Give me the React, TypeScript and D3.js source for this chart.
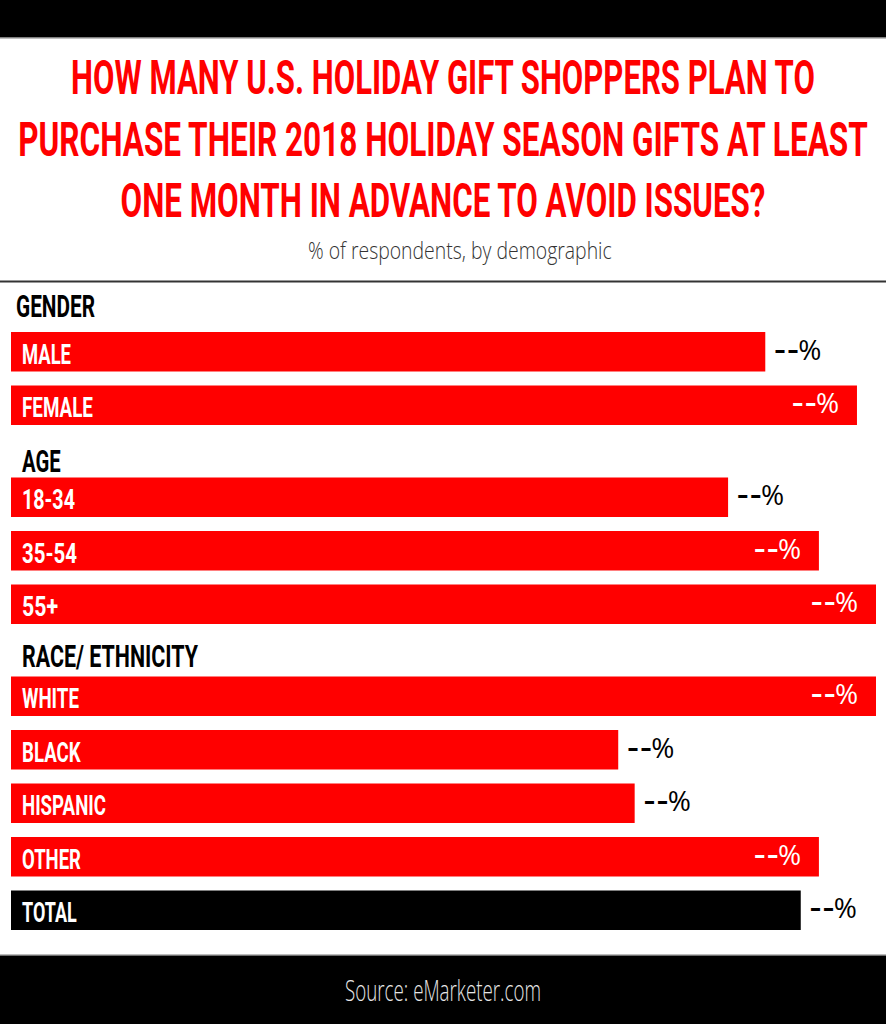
import React, { useLayoutEffect, useRef, useState } from "react";
import * as d3 from "d3";

// ---------- data ----------
const categories = ["MALE", "FEMALE", "18-34", "35-54", "55+", "WHITE", "BLACK", "HISPANIC", "OTHER", "TOTAL"];
const groups = ["GENDER", "GENDER", "AGE", "AGE", "AGE", "RACE/ ETHNICITY", "RACE/ ETHNICITY", "RACE/ ETHNICITY", "RACE/ ETHNICITY", ""];
const values = [87.2, 97.8, 82.9, 93.4, 100, 100, 70.2, 72.1, 93.4, 91.3];
const valueLabels = ["--%", "--%", "--%", "--%", "--%", "--%", "--%", "--%", "--%", "--%"];
const titleLines = [
  "HOW MANY U.S. HOLIDAY GIFT SHOPPERS PLAN TO",
  "PURCHASE THEIR 2018 HOLIDAY SEASON GIFTS AT LEAST",
  "ONE MONTH IN ADVANCE TO AVOID ISSUES?",
];
const subtitle = "% of respondents, by demographic";
const source = "Source: eMarketer.com";

// ---------- layout / style ----------
const W = 886;
const H = 1024;
const RED = "#ff0000";
const CONDENSED = "Roboto, 'Liberation Sans', sans-serif";
const SANS = "'Open Sans', sans-serif";
const titleBaselines = [94, 156, 217];
const titleWidths = [744, 850, 645];
const headingHeight = 38.5;
const rowStep = 53.5;
const barHeight = 39.5;
const startY = 293.5;
const headingOffset: Record<string, number> = { GENDER: 15, AGE: 5.5, "RACE/ ETHNICITY": 9.5 };
const headingX: Record<string, number> = { GENDER: 16, AGE: 22, "RACE/ ETHNICITY": 22 };
const headingWidth: Record<string, number> = { GENDER: 79, AGE: 38.7, "RACE/ ETHNICITY": 176 };
const labelWidth: Record<string, number> = {
  MALE: 49, FEMALE: 71, "18-34": 53, "35-54": 55, "55+": 36,
  WHITE: 57, BLACK: 58.7, HISPANIC: 84, OTHER: 59, TOTAL: 54.7,
};

type FitProps = {
  x: number;
  y: number;
  width?: number;
  anchor?: "start" | "middle" | "end";
  fill: string;
  family: string;
  weight?: number;
  size: number;
  children: string;
};

// Text horizontally condensed (scaled) to a given width.
function FitText({ x, y, width, anchor = "start", fill, family, weight = 400, size, children }: FitProps) {
  const ref = useRef<SVGTextElement>(null);
  const [s, setS] = useState(1);
  useLayoutEffect(() => {
    if (ref.current && width) {
      const w = ref.current.getComputedTextLength();
      if (w > 0) setS(width / w);
    }
  }, [width, children, size, family, weight]);
  return (
    <text
      ref={ref}
      transform={`translate(${x},${y}) scale(${s},1)`}
      x={0}
      y={0}
      textAnchor={anchor}
      fill={fill}
      fontFamily={family}
      fontWeight={weight}
      fontSize={size}
    >
      {children}
    </text>
  );
}

const VALUE_W = 47;
function ValueLabel({ x0, y, fill, text }: { x0: number; y: number; fill: string; text: string }) {
  const chars = text.split("");
  const dashes = chars.filter((c) => c !== "%");
  return (
    <g>
      {dashes.map((ch, k) => (
        <FitText key={k} x={x0 - 1 + k * 13} y={y} width={11.5} fill={fill} family={SANS} weight={600} size={30}>
          {ch}
        </FitText>
      ))}
      <FitText x={x0 + 23} y={y} fill={fill} family={SANS} weight={400} size={28}>
        %
      </FitText>
    </g>
  );
}

export default function App() {
  const x = d3.scaleLinear().domain([0, 100]).range([11, 876]);

  let y = startY;
  let prev = "__";
  const rows = categories.map((c, i) => {
    const g = groups[i];
    let heading: string | null = null;
    if (g !== prev && g !== "") {
      y += headingHeight;
      heading = g;
    }
    prev = g;
    const top = y;
    y += rowStep;
    return { c, g, v: values[i], lab: valueLabels[i], top, heading, isTotal: g === "" };
  });

  return (
    <svg
      width={W}
      height={H}
      viewBox={`0 0 ${W} ${H}`}
      style={{ position: "absolute", left: 0, top: 0, display: "block", background: "#fff" }}
    >
      <rect x={0} y={0} width={W} height={H} fill="#fff" />
      <rect x={0} y={0} width={W} height={37} fill="#000" />
      <rect x={0} y={37} width={W} height={1.5} fill="#808080" />

      {titleLines.map((t, i) => (
        <FitText
          key={i}
          x={W / 2}
          y={titleBaselines[i]}
          width={titleWidths[i]}
          anchor="middle"
          fill={RED}
          family={CONDENSED}
          weight={700}
          size={49}
        >
          {t}
        </FitText>
      ))}

      <FitText x={308} y={259} width={304} fill="#333" family={SANS} weight={300} size={23}>
        {subtitle}
      </FitText>
      <rect x={0} y={280.5} width={W} height={2} fill="#333" />

      {rows.map((r, i) => {
        const xEnd = x(r.v);
        const inside = xEnd > 810;
        const x0 = inside ? xEnd - 17 - VALUE_W : xEnd + 10;
        return (
          <g key={i}>
            {r.heading && (
              <FitText
                x={headingX[r.heading]}
                y={r.top - headingOffset[r.heading]}
                width={headingWidth[r.heading]}
                fill="#000"
                family={CONDENSED}
                weight={700}
                size={32}
              >
                {r.heading}
              </FitText>
            )}
            <rect
              x={x(0)}
              y={r.top}
              width={xEnd - x(0)}
              height={barHeight}
              fill={r.isTotal ? "#000" : RED}
            />
            <FitText
              x={22}
              y={r.top + 31.5}
              width={labelWidth[r.c]}
              fill="#fff"
              family={CONDENSED}
              weight={700}
              size={28}
            >
              {r.c}
            </FitText>
            <ValueLabel x0={x0} y={r.top + 27.5} fill={inside ? "#fff" : "#000"} text={r.lab} />
          </g>
        );
      })}

      <rect x={0} y={954} width={W} height={1.5} fill="#bbb" />
      <rect x={0} y={955.5} width={W} height={H - 955.5} fill="#000" />
      <FitText x={W / 2} y={1001} width={196} anchor="middle" fill="#e6e6e6" family={SANS} weight={300} size={29}>
        {source}
      </FitText>
    </svg>
  );
}
